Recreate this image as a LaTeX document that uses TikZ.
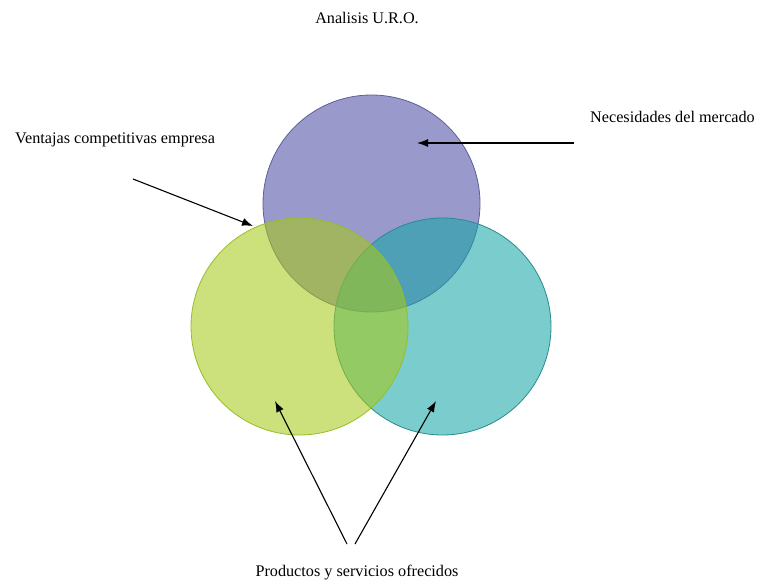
\documentclass[tikz,border=0pt]{standalone}
\usepackage{fontspec}
\setmainfont{Liberation Serif}
\usepackage{tikz}
\usetikzlibrary{calc}
\usetikzlibrary{positioning}
\usetikzlibrary{arrows.meta}

\definecolor{uroPurple}{RGB}{153,153,204}
\definecolor{uroPurpleLine}{RGB}{95,95,150}
\definecolor{uroGreen}{RGB}{166,201,22}
\definecolor{uroGreenLine}{RGB}{150,190,40}
\definecolor{uroTeal}{RGB}{22,166,166}
\definecolor{uroTealLine}{RGB}{40,140,140}

\begin{document}
\begin{tikzpicture} [>={Latex[length=11pt,width=8pt]}, x=1pt, y=-1pt]
            % Set primary nodes
            \tikzset{
                setNode/.style={
                        circle,
                        minimum size=217pt,
                        inner sep=0pt,
                        line width=0.8pt
                    }
            }
            \tikzset{
                labelNode/.style={
                        font=\fontsize{16.2}{18}\selectfont,
                        inner sep=0pt
                    }
            }
            % Configure arrows
            \tikzstyle{arrow} = [->, line width=1.1pt]
            \useasboundingbox (0,0) rectangle (760,587);
            % Placing nodes
            \node[setNode, fill=uroPurple, draw=uroPurpleLine](market) at (371.5,203.5){};
            \node[setNode, fill=uroTeal, fill opacity=0.57, draw=uroTealLine](offer) at (442.5,326.5){};
            \node[setNode, fill=uroGreen, fill opacity=0.57, draw=uroGreenLine](advantage) at (299.5,326.5){};
            \node[labelNode](title) at (367,18){Analisis U.R.O.};
            \node[labelNode, anchor=west](advantageLabel) at (15,140){Ventajas competitivas empresa};
            \node[labelNode, anchor=west](marketLabel) at (590,117){Necesidades del mercado};
            \node[labelNode](offerLabel) at (357,573){Productos y servicios ofrecidos};
            % Arrow ends
            \coordinate (advantageFrom) at (133,179);
            \coordinate (advantageTo) at (253,226);
            \coordinate (marketFrom) at (574,143);
            \coordinate (marketTo) at (417,143);
            \coordinate (offerFrom1) at (347,544);
            \coordinate (offerTo1) at (275,401);
            \coordinate (offerFrom2) at (355,544);
            \coordinate (offerTo2) at (436,401);
            % Draw arrows
            \draw[arrow](advantageFrom) -- (advantageTo);
            \draw[arrow](marketFrom) -- (marketTo);
            \draw[arrow](offerFrom1) -- (offerTo1);
            \draw[arrow](offerFrom2) -- (offerTo2);

        \end{tikzpicture}
\end{document}
